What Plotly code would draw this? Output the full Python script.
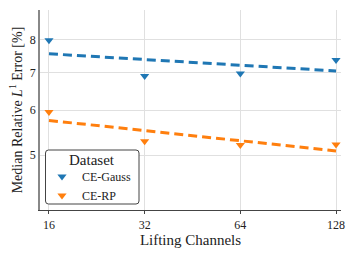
import numpy as np
import plotly.graph_objects as go

channels = [16, 32, 64, 128]
ce_gauss = [7.98, 6.90, 6.97, 7.36]
ce_rp = [5.96, 5.29, 5.21, 5.22]
series_names = ["CE-Gauss", "CE-RP"]
colors = ["#1f77b4", "#ff7f0e"]
x_ticks = [16, 32, 64, 128]
y_ticks = [5, 6, 7, 8]

FONT = "Liberation Serif"
W, H = 356, 253
ML, MR, MT, MB = 40, 15, 10, 43
PW, PH = W - ML - MR, H - MT - MB

def px(xp):
    return (xp - ML) / PW

def py(yp):
    return (H - MB - yp) / PH

fig = go.Figure()
lx = np.log2(channels)
for name, vals, c in zip(series_names, [ce_gauss, ce_rp], colors):
    slope, icpt = np.polyfit(lx, np.log10(vals), 1)
    fit = 10 ** (slope * lx + icpt)
    fig.add_trace(go.Scatter(x=channels, y=fit, mode="lines",
                             line=dict(color=c, width=3, dash="9px,5px"),
                             showlegend=False, hoverinfo="skip"))
for name, vals, c in zip(series_names, [ce_gauss, ce_rp], colors):
    fig.add_trace(go.Scatter(x=channels, y=vals, mode="markers", name=name,
                             marker=dict(symbol="triangle-down", size=8, color=c)))

# legend frame with rounded corners (paper coords)
x0, x1, y0, y1 = px(45.5), px(139), py(204), py(150)
rx, ry = 3 / PW, 3 / PH
path = (f"M {x0+rx},{y0} L {x1-rx},{y0} Q {x1},{y0} {x1},{y0+ry} "
        f"L {x1},{y1-ry} Q {x1},{y1} {x1-rx},{y1} L {x0+rx},{y1} Q {x0},{y1} {x0},{y1-ry} "
        f"L {x0},{y0+ry} Q {x0},{y0} {x0+rx},{y0} Z")
fig.add_shape(type="path", path=path, xref="paper", yref="paper",
              fillcolor="white", line=dict(color="#444", width=1), layer="above")
fig.add_annotation(text="Dataset", xref="paper", yref="paper",
                   x=(x0 + x1) / 2, y=py(160), xanchor="center", yanchor="middle",
                   showarrow=False,
                   font=dict(size=15, family=FONT, color="#222"))

l2 = np.log10(2)
fig.update_layout(
    width=W, height=H,
    margin=dict(l=ML, r=MR, t=MT, b=MB),
    paper_bgcolor="white", plot_bgcolor="white",
    font=dict(family=FONT, size=12, color="#222"),
    xaxis=dict(type="log", range=[np.log10(16) - 9 / 96 * l2, np.log10(128) + 5 / 96 * l2],
               tickvals=x_ticks, ticktext=[str(t) for t in x_ticks],
               showgrid=True, gridcolor="#e0e0e0", gridwidth=1,
               showline=True, linecolor="#444", linewidth=1.2, mirror=False,
               ticks="outside", ticklen=3, tickcolor="#444",
               tickfont=dict(size=12), zeroline=False, automargin=False,
               title=dict(text="Lifting Channels", font=dict(size=15), standoff=2)),
    yaxis=dict(type="log", range=[np.log10(4.0), np.log10(9.02)],
               tickvals=y_ticks, ticktext=[str(t) for t in y_ticks],
               showgrid=True, gridcolor="#e0e0e0", gridwidth=1,
               showline=True, linecolor="#888", linewidth=1.5, mirror=False,
               ticks="", tickfont=dict(size=12), zeroline=False, automargin=False,
               title=dict(text="Median Relative <i>L</i><sup>1</sup> Error [%]",
                          font=dict(size=14), standoff=4)),
    legend=dict(x=px(42), y=py(186), xanchor="left", yanchor="middle",
                bgcolor="rgba(0,0,0,0)", borderwidth=0,
                font=dict(size=12),
                itemwidth=30, tracegroupgap=0),
)
fig.write_html("out.html", config={"displayModeBar": False},
               post_script="document.body.style.margin='0';document.body.style.overflow='hidden';")
